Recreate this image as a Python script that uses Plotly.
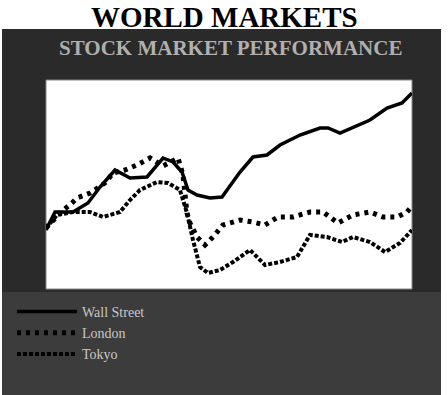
import plotly.graph_objects as go

# ---- data (index, start = 100) ----
x_solid = [0, 9, 27, 42, 54, 69, 84, 101, 117, 127, 136, 142, 151, 164, 176, 194, 207, 221, 234, 254, 274, 282, 294, 307, 324, 341, 356, 366]
y_solid = [99, 108, 108, 112.5, 120.5, 129, 125, 125.5, 135, 133, 128, 119, 116.5, 115, 115.5, 128, 135.5, 136.5, 141.5, 146.5, 150, 150, 147.5, 150.5, 154, 160, 162.5, 167.5]

x_dot = [0, 14, 26, 31, 44, 59, 67, 79, 91, 104, 117, 132, 137, 139, 141, 144, 151, 159, 167, 177, 194, 207, 219, 232, 247, 264, 277, 292, 307, 324, 337, 351, 361, 366]
y_dot = [100, 107.5, 112.5, 115, 117.5, 122.5, 127.5, 129, 131.5, 135, 131, 135, 126.5, 114, 107.5, 102.5, 95.5, 91.5, 95.5, 101.5, 104, 103, 101.5, 105.5, 105.5, 108, 108, 102.5, 106.5, 108, 105.5, 105.5, 108, 111]

x_dash = [0, 11, 27, 44, 57, 74, 84, 94, 111, 122, 134, 141, 147, 154, 162, 174, 187, 204, 219, 234, 251, 264, 281, 296, 307, 324, 339, 354, 366]
y_dash = [100, 106.5, 108, 108, 105.5, 108, 114, 119, 123, 122.5, 119, 107.5, 94, 80.5, 77.5, 79, 83, 89, 81.5, 83, 85.5, 96.5, 95.5, 93, 95.5, 93, 88, 92.5, 99]

series_names = ["Wall Street", "London", "Tokyo"]
title_text = "WORLD MARKETS"
subtitle_text = "STOCK MARKET PERFORMANCE"

W, H = 448, 395
L, R, T, B = 46, 412, 80, 289  # plot area pixels


def px_x(p):
    return (p - L) / (R - L)


def px_y(p):
    return (B - p) / (B - T)


fig = go.Figure()
fig.add_trace(go.Scatter(x=x_solid, y=y_solid, mode="lines", name=series_names[0],
                         line=dict(color="black", width=3.5)))
fig.add_trace(go.Scatter(x=x_dot, y=y_dot, mode="lines", name=series_names[1],
                         line=dict(color="black", width=5, dash="4px,5px")))
fig.add_trace(go.Scatter(x=x_dash, y=y_dash, mode="lines", name=series_names[2],
                         line=dict(color="black", width=4, dash="4px,2px")))

shapes = [
    dict(type="rect", xref="paper", yref="paper", layer="below",
         x0=px_x(2), x1=px_x(441), y0=px_y(395), y1=px_y(29),
         fillcolor="#2a2a2a", line=dict(width=0)),
    dict(type="rect", xref="paper", yref="paper", layer="below",
         x0=px_x(2), x1=px_x(441), y0=px_y(395), y1=px_y(292),
         fillcolor="#3c3c3c", line=dict(width=0)),
    dict(type="rect", xref="paper", yref="paper", layer="below",
         x0=0, x1=1, y0=0, y1=1,
         fillcolor="white", line=dict(color="#888", width=1)),
]

annotations = [
    dict(text=title_text, xref="paper", yref="paper", x=px_x(224), y=px_y(17),
         xanchor="center", yanchor="middle", showarrow=False,
         font=dict(family="Liberation Serif", size=29, color="black", weight="bold")),
    dict(text=subtitle_text, xref="paper", yref="paper", x=px_x(230), y=px_y(48),
         xanchor="center", yanchor="middle", showarrow=False,
         font=dict(family="Liberation Serif", size=21, color="#b0b0b0", weight="bold")),
]

fig.update_layout(
    width=W, height=H,
    margin=dict(l=L, r=W - R, t=T, b=H - B, pad=0),
    paper_bgcolor="white", plot_bgcolor="rgba(0,0,0,0)",
    showlegend=True,
    legend=dict(x=px_x(12), y=px_y(296), xanchor="left", yanchor="top",
                bgcolor="rgba(0,0,0,0)", font=dict(family="Liberation Serif", size=14, color="#c8c8c8"),
                itemwidth=60, tracegroupgap=2),
    xaxis=dict(range=[0, 366], visible=False, fixedrange=True),
    yaxis=dict(range=[69.5, 174], visible=False, fixedrange=True),
    shapes=shapes, annotations=annotations,
)

fig.write_html("out.html")
